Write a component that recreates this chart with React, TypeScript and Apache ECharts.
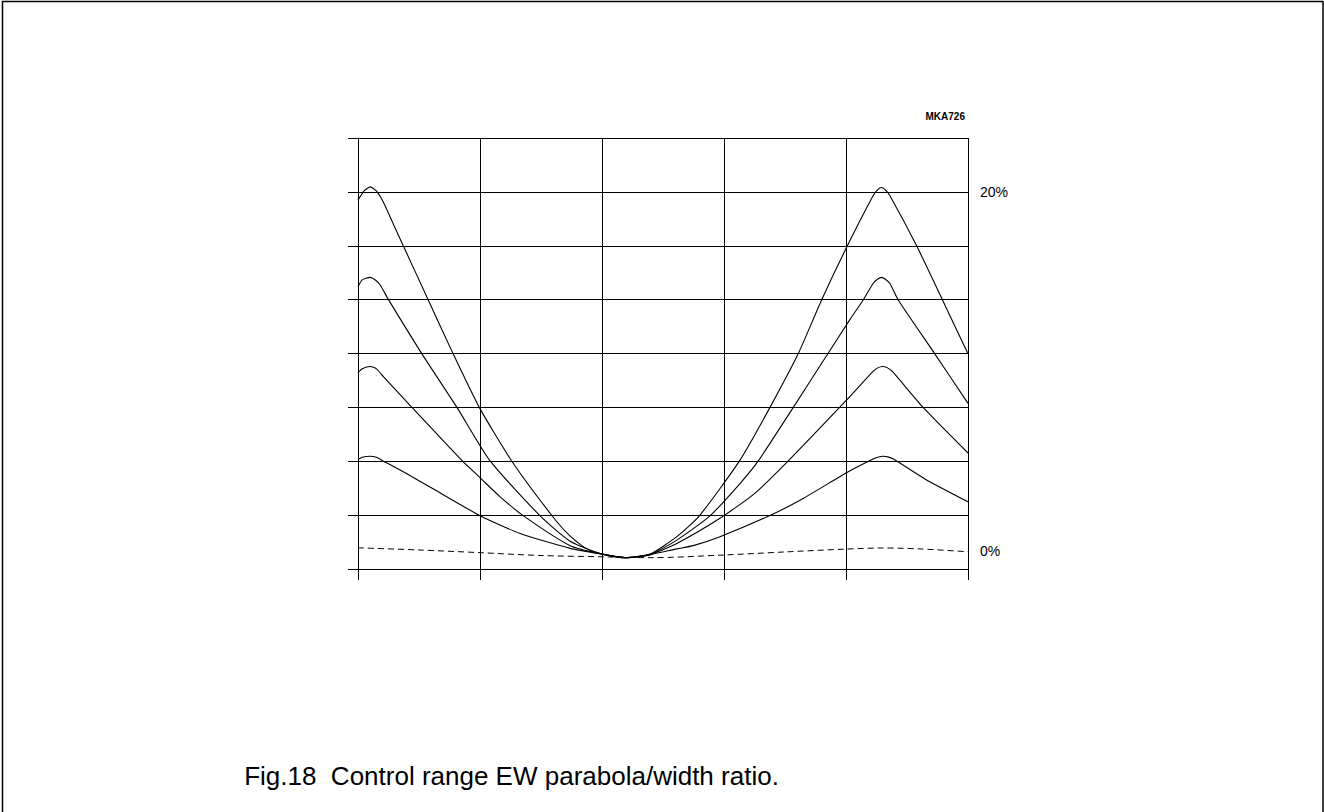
import React, { useEffect, useRef } from "react";
import * as echarts from "echarts";

// horizontal position in grid divisions (0..5), vertical value in %
const xA = [0, 0.05, 0.1, 0.15, 0.21, 0.29, 0.371, 0.576, 0.78, 0.994, 1.261, 1.589, 1.739, 1.875, 2.0, 2.2, 2.394, 2.613, 2.798, 3.127, 3.377, 3.608, 3.8, 4.007, 4.222, 4.26, 4.291, 4.32, 4.36, 4.583, 4.791, 5.0];
const yA = [19.54, 20.06, 20.28, 20.05, 19.4, 18.2, 17.0, 13.98, 10.98, 8.0, 5.0, 1.98, 0.83, 0.12, -0.17, -0.37, -0.17, 0.8, 1.96, 5.02, 8.0, 10.98, 13.98, 16.94, 19.78, 20.12, 20.24, 20.12, 19.78, 16.94, 13.98, 10.98];

const xB = [0, 0.035, 0.1, 0.15, 0.183, 0.25, 0.524, 0.811, 1.083, 1.493, 1.739, 2.0, 2.2, 2.394, 2.613, 2.885, 3.131, 3.281, 3.568, 3.786, 4.033, 4.141, 4.222, 4.26, 4.291, 4.32, 4.36, 4.428, 4.728, 5.0];
const yB = [14.72, 15.1, 15.24, 15.05, 14.8, 14.0, 10.98, 8.0, 5.02, 1.96, 0.55, -0.17, -0.37, -0.2, 0.61, 1.96, 3.76, 5.02, 8.0, 10.3, 12.9, 13.98, 14.9, 15.15, 15.24, 15.15, 14.9, 13.98, 10.98, 8.22];

const xC = [0, 0.035, 0.1, 0.15, 0.21, 0.442, 0.855, 1.0, 1.165, 1.356, 1.739, 2.0, 2.2, 2.394, 2.613, 2.957, 3.25, 3.527, 3.99, 4.222, 4.26, 4.3, 4.34, 4.38, 4.632, 5.0];
const yC = [9.93, 10.15, 10.28, 10.16, 9.7, 8.0, 5.02, 4.09, 3.02, 1.96, 0.3, -0.17, -0.37, -0.2, 0.42, 1.78, 3.2, 5.02, 8.3, 10.0, 10.2, 10.28, 10.2, 10.0, 8.0, 5.46];

const xD = [0, 0.035, 0.1, 0.15, 0.21, 0.401, 0.619, 1.0, 1.329, 1.739, 2.0, 2.2, 2.394, 2.613, 2.748, 2.967, 3.377, 3.649, 4.018, 4.222, 4.26, 4.305, 4.35, 4.39, 4.65, 5.0];
const yD = [5.09, 5.22, 5.28, 5.22, 5.0, 4.3, 3.45, 1.97, 0.98, 0.15, -0.17, -0.37, -0.2, 0.12, 0.3, 0.8, 1.98, 2.93, 4.41, 5.12, 5.22, 5.28, 5.23, 5.12, 4.0, 2.74];

const xE = [0, 0.5, 1.0, 1.5, 2.0, 2.4, 3.0, 3.5, 4.0, 4.3, 4.6, 5.0];
const yE = [0.18, 0.06, -0.09, -0.25, -0.32, -0.37, -0.22, -0.05, 0.11, 0.17, 0.12, -0.04];

const shownPercentLabels = [0, 20];
const caption = "Fig.18  Control range EW parabola/width ratio.";
const code = "MKA726";

const zip = (xs: number[], ys: number[]) => xs.map((x, i) => [x, ys[i]]);

export default function App() {
  const ref = useRef<HTMLDivElement>(null);
  useEffect(() => {
    document.body.style.margin = "0";
    const chart = echarts.init(ref.current!, null, { renderer: "svg" });
    const solid = (d: number[][]) => ({
      type: "line",
      data: d,
      xAxisIndex: 0,
      yAxisIndex: 1,
      smooth: 0.2,
      showSymbol: false,
      symbol: "none",
      lineStyle: { color: "#000", width: 1.1 },
      silent: true,
    });
    chart.setOption({
      animation: false,
      backgroundColor: "#fff",
      grid: { left: 358, top: 138, width: 610, height: 431 },
      xAxis: {
        type: "value",
        min: 0,
        max: 5,
        interval: 1,
        axisLine: { show: true, lineStyle: { color: "#000", width: 1 } },
        axisTick: { show: true, length: 11, lineStyle: { color: "#000", width: 1 } },
        axisLabel: { show: false },
        splitLine: { show: true, lineStyle: { color: "#000", width: 1 } },
      },
      yAxis: [
        {
          type: "value",
          min: 0,
          max: 8,
          interval: 1,
          position: "left",
          axisLine: { show: true, lineStyle: { color: "#000", width: 1 } },
          axisTick: { show: true, length: 10, lineStyle: { color: "#000", width: 1 } },
          axisLabel: { show: false },
          splitLine: { show: true, lineStyle: { color: "#000", width: 1 } },
        },
        {
          type: "value",
          min: -1,
          max: 23,
          interval: 1,
          position: "right",
          axisLine: { show: false },
          axisTick: { show: false },
          splitLine: { show: false },
          axisLabel: {
            show: true,
            margin: 12,
            color: "#000",
            fontSize: 14,
            fontFamily: "Liberation Sans, Arial, sans-serif",
            formatter: (v: number) => (shownPercentLabels.includes(Math.round(v * 1000) / 1000) ? `${v}%` : ""),
          },
        },
      ],
      series: [
        solid(zip(xA, yA)),
        solid(zip(xB, yB)),
        solid(zip(xC, yC)),
        solid(zip(xD, yD)),
        {
          type: "line",
          data: zip(xE, yE),
          xAxisIndex: 0,
          yAxisIndex: 1,
          smooth: 0.3,
          showSymbol: false,
          symbol: "none",
          lineStyle: { color: "#000", width: 1, type: [6, 4] },
          silent: true,
        },
      ],
      graphic: [
        {
          type: "rect",
          silent: true,
          shape: { x: 2.5, y: 1.5, width: 1320.5, height: 900 },
          style: { fill: "none", stroke: "#000", lineWidth: 1.5 },
        },
        {
          type: "text",
          silent: true,
          x: 965,
          y: 116,
          style: {
            text: code,
            fill: "#000",
            font: "bold 10px 'Liberation Sans', Arial, sans-serif",
            textAlign: "right",
            textVerticalAlign: "middle",
          },
        },
        {
          type: "text",
          silent: true,
          x: 511.5,
          y: 776,
          style: {
            text: caption,
            fill: "#000",
            font: "26px 'Liberation Sans', Arial, sans-serif",
            textAlign: "center",
            textVerticalAlign: "middle",
          },
        },
      ],
    });
    return () => chart.dispose();
  }, []);
  return <div ref={ref} style={{ width: 1324, height: 812 }} />;
}
